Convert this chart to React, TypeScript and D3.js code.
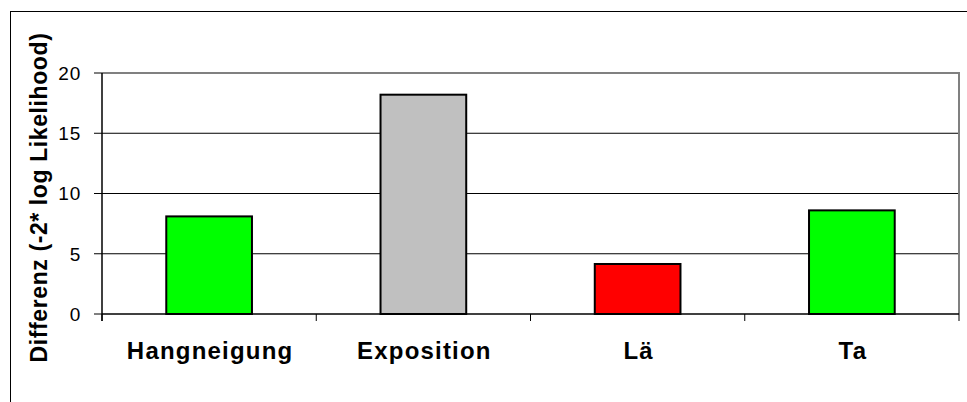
import * as d3 from "d3";
import React from "react";

const categories = ["Hangneigung", "Exposition", "Lä", "Ta"];
const values = [8.1, 18.2, 4.15, 8.6];
const barColors = ["#00ff00", "#c0c0c0", "#ff0000", "#00ff00"];
const yTicks = [0, 5, 10, 15, 20];
const yTitle = "Differenz (-2* log Likelihood)";

const width = 967;
const height = 402;
const plot = { left: 102, right: 959, top: 73, bottom: 314 };
const font = "'Liberation Sans', Arial, sans-serif";

export default function App() {
  const x = d3
    .scaleBand()
    .domain(categories)
    .range([plot.left, plot.right])
    .paddingInner(0.6)
    .paddingOuter(0.3);
  const y = d3.scaleLinear().domain([0, 20]).range([plot.bottom, plot.top]);
  const step = x.step();
  // boundaries between categories, for the small ticks under the axis
  const boundaries = d3.range(categories.length + 1).map((i) => plot.left + i * step);

  return (
    <svg
      width={width}
      height={height}
      style={{ position: "absolute", left: 0, top: 0, background: "#fff" }}
    >
      {/* outer frame */}
      <rect x={10.5} y={11.5} width={980} height={420} fill="#fff" stroke="#000" strokeWidth={1} />

      {/* gridlines */}
      {yTicks
        .filter((t) => t > 0 && t < 20)
        .map((t) => (
          <line key={t} x1={plot.left} x2={plot.right} y1={y(t)} y2={y(t)} stroke="#000" strokeWidth={1} />
        ))}

      {/* plot border (top & right, grey) */}
      <path
        d={`M${plot.left},${y(20)}H${plot.right}V${plot.bottom}`}
        fill="none"
        stroke="#808080"
        strokeWidth={2}
      />

      {/* bars */}
      {categories.map((c, i) => (
        <rect
          key={c}
          x={x(c)}
          y={y(values[i])}
          width={x.bandwidth()}
          height={y(0) - y(values[i])}
          fill={barColors[i]}
          stroke="#000"
          strokeWidth={2}
        />
      ))}

      {/* y axis */}
      <line x1={plot.left} x2={plot.left} y1={plot.top} y2={plot.bottom + 7} stroke="#000" strokeWidth={1.5} />
      {yTicks.map((t) => (
        <g key={t}>
          <line x1={plot.left - 8} x2={plot.left} y1={y(t)} y2={y(t)} stroke="#000" strokeWidth={1} />
          <text
            x={81}
            y={y(t)}
            dy="0.36em"
            textAnchor="end"
            fontFamily={font}
            fontSize={19}
            letterSpacing={0.8}
          >
            {t}
          </text>
        </g>
      ))}

      {/* x axis */}
      <line x1={plot.left} x2={plot.right} y1={plot.bottom} y2={plot.bottom} stroke="#000" strokeWidth={1.5} />
      {boundaries.map((b, i) => (
        <line key={i} x1={b} x2={b} y1={plot.bottom} y2={plot.bottom + 7} stroke="#000" strokeWidth={1} />
      ))}
      {categories.map((c) => (
        <text
          key={c}
          x={(x(c) as number) + x.bandwidth() / 2 + 1}
          y={359}
          textAnchor="middle"
          fontFamily={font}
          fontWeight="bold"
          fontSize={24}
          letterSpacing={1.2}
        >
          {c}
        </text>
      ))}

      {/* y title */}
      <text
        transform={`translate(47,${(plot.top + plot.bottom) / 2 + 4}) rotate(-90)`}
        textAnchor="middle"
        fontFamily={font}
        fontWeight="bold"
        fontSize={23}
        letterSpacing={0.6}
      >
        {yTitle}
      </text>
    </svg>
  );
}
